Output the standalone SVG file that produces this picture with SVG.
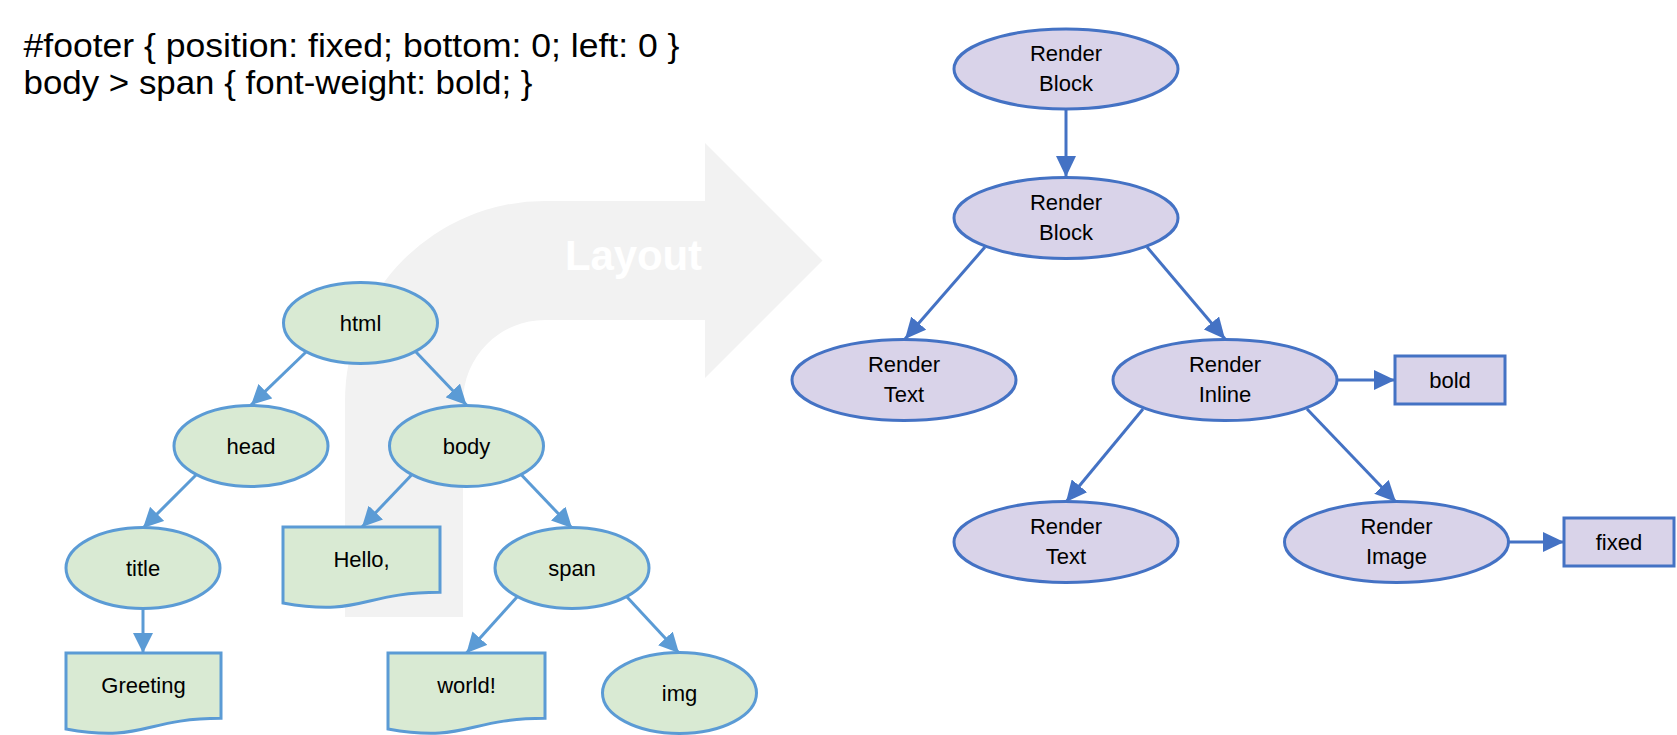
<svg xmlns="http://www.w3.org/2000/svg" width="1677" height="735" viewBox="0 0 1677 735">
<style>
  .t { font-family: "Liberation Sans", Arial, sans-serif; fill: #000; }
  .lbl { font-size: 22px; text-anchor: middle; }
  .css { font-size: 34px; }
  .g { fill: #D9EAD3; stroke: #5B9BD5; stroke-width: 3; }
  .p { fill: #D9D3E9; stroke: #4472C4; stroke-width: 3; }
  .cg { stroke: #5B9BD5; stroke-width: 3; fill: none; marker-end: url(#ag); }
  .cp { stroke: #4472C4; stroke-width: 3; fill: none; marker-end: url(#ap); }
</style>
<defs>
  <marker id="ag" markerUnits="userSpaceOnUse" markerWidth="20" markerHeight="20" refX="20" refY="10" orient="auto">
    <path d="M0,0 L20,10 L0,20 Z" fill="#5B9BD5"/>
  </marker>
  <marker id="ap" markerUnits="userSpaceOnUse" markerWidth="21" markerHeight="20" refX="21" refY="10" orient="auto">
    <path d="M0,0 L21,10 L0,20 Z" fill="#4472C4"/>
  </marker>
</defs>
<rect width="1677" height="735" fill="#fff"/>
<g id="layout-arrow">
  <path d="M345,617 V401 A200,200 0 0 1 545,201 H705 V143 L822.5,260.5 L705,378 V320 H545 A82,82 0 0 0 463,402 V617 Z" fill="#F2F2F2"/>
  <text x="565" y="270" class="t" font-size="42" font-weight="bold" textLength="137" style="fill:#fff">Layout</text>
</g>
<g id="css-text">
  <text x="23.5" y="57" class="t css" textLength="656" lengthAdjust="spacingAndGlyphs">#footer { position: fixed; bottom: 0; left: 0 }</text>
  <text x="23.5" y="94" class="t css" textLength="509" lengthAdjust="spacingAndGlyphs">body &gt; span { font-weight: bold; }</text>
</g>
<g id="connectors">
  <line class="cg" x1="306" y1="352" x2="251" y2="405"/>
  <line class="cg" x1="416" y1="352" x2="466.5" y2="405"/>
  <line class="cg" x1="196" y1="475" x2="143" y2="528"/>
  <line class="cg" x1="411.5" y1="475" x2="362" y2="527"/>
  <line class="cg" x1="521.5" y1="475" x2="572" y2="528"/>
  <line class="cg" x1="143" y1="608.5" x2="143" y2="653"/>
  <line class="cg" x1="517" y1="597" x2="466.5" y2="653"/>
  <line class="cg" x1="627" y1="597" x2="679" y2="653"/>
  <line class="cp" x1="1066" y1="109" x2="1066" y2="177"/>
  <line class="cp" x1="985" y1="247" x2="905" y2="339"/>
  <line class="cp" x1="1147" y1="247" x2="1225" y2="339"/>
  <line class="cp" x1="1337" y1="380" x2="1395" y2="380"/>
  <line class="cp" x1="1143" y1="409" x2="1066" y2="502"/>
  <line class="cp" x1="1307" y1="409" x2="1396" y2="502"/>
  <line class="cp" x1="1508" y1="542" x2="1564" y2="542"/>
</g>
<g id="html"><ellipse class="g" cx="360.5" cy="323" rx="77" ry="40.5"/><text class="t lbl" x="360.5" y="331">html</text></g>
<g id="head"><ellipse class="g" cx="251" cy="446" rx="77" ry="40.5"/><text class="t lbl" x="251" y="454">head</text></g>
<g id="body"><ellipse class="g" cx="466.5" cy="446" rx="77" ry="40.5"/><text class="t lbl" x="466.5" y="454">body</text></g>
<g id="title"><ellipse class="g" cx="143" cy="568" rx="77" ry="40.5"/><text class="t lbl" x="143" y="576">title</text></g>
<g id="span"><ellipse class="g" cx="572" cy="568" rx="77" ry="40.5"/><text class="t lbl" x="572" y="576">span</text></g>
<g id="img"><ellipse class="g" cx="679.5" cy="693" rx="77" ry="40.5"/><text class="t lbl" x="679.5" y="701">img</text></g>
<g id="hello"><path class="g" d="M283,527 H440 V592.3 C361.5,592.3 361.5,617.2 283,603 Z"/><text class="t lbl" x="361.5" y="567">Hello,</text></g>
<g id="greeting"><path class="g" d="M66,653 H221 V718.3 C143.5,718.3 143.5,743.2 66,729 Z"/><text class="t lbl" x="143.5" y="693">Greeting</text></g>
<g id="world"><path class="g" d="M388,653 H545 V718.3 C466.5,718.3 466.5,743.2 388,729 Z"/><text class="t lbl" x="466.5" y="693">world!</text></g>
<g id="rb1"><ellipse class="p" cx="1066" cy="69" rx="112" ry="40"/><text class="t lbl" x="1066" y="61">Render</text><text class="t lbl" x="1066" y="91">Block</text></g>
<g id="rb2"><ellipse class="p" cx="1066" cy="218" rx="112" ry="40.5"/><text class="t lbl" x="1066" y="210">Render</text><text class="t lbl" x="1066" y="240">Block</text></g>
<g id="rtext1"><ellipse class="p" cx="904" cy="380" rx="112" ry="40.5"/><text class="t lbl" x="904" y="372">Render</text><text class="t lbl" x="904" y="402">Text</text></g>
<g id="rinline"><ellipse class="p" cx="1225" cy="380" rx="112" ry="40.5"/><text class="t lbl" x="1225" y="372">Render</text><text class="t lbl" x="1225" y="402">Inline</text></g>
<g id="bold"><rect class="p" x="1395" y="356" width="110" height="48"/><text class="t lbl" x="1450" y="388">bold</text></g>
<g id="rtext2"><ellipse class="p" cx="1066" cy="542" rx="112" ry="40.5"/><text class="t lbl" x="1066" y="534">Render</text><text class="t lbl" x="1066" y="564">Text</text></g>
<g id="rimage"><ellipse class="p" cx="1396.5" cy="542" rx="112" ry="40.5"/><text class="t lbl" x="1396.5" y="534">Render</text><text class="t lbl" x="1396.5" y="564">Image</text></g>
<g id="fixed"><rect class="p" x="1564" y="518" width="110" height="48"/><text class="t lbl" x="1619" y="550">fixed</text></g>
</svg>
